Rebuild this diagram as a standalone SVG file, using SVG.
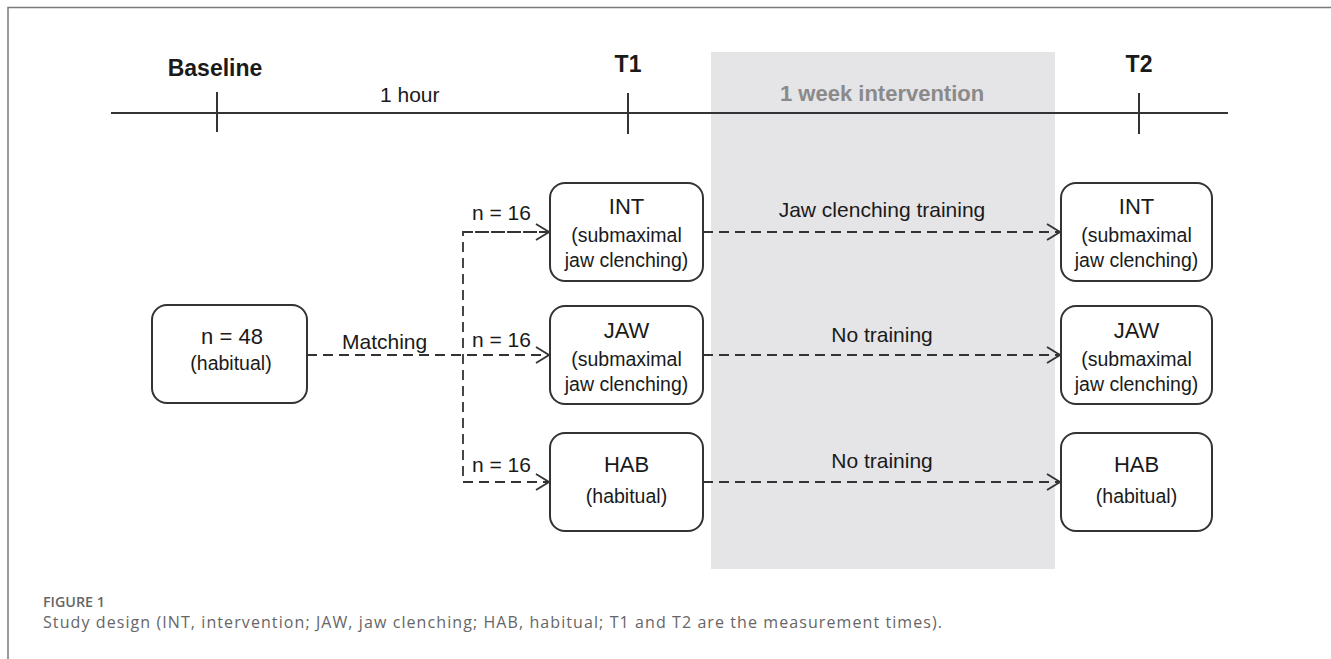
<svg xmlns="http://www.w3.org/2000/svg" width="1331" height="659" viewBox="0 0 1331 659">
  <style>
    text { font-family: "Liberation Sans", Arial, sans-serif; fill: #1a1a1a; }
    .head { font-size: 23px; font-weight: bold; text-anchor: middle; }
    .span { font-size: 22px; font-weight: bold; fill: #8a8a8a; }
    .lbl { font-size: 21px; }
    .title { font-size: 22px; text-anchor: middle; }
    .sub { font-size: 19.5px; text-anchor: middle; }
    .box { fill: #ffffff; stroke: #333333; stroke-width: 2; }
    .axis { stroke: #333333; stroke-width: 2; fill: none; }
    .dash { stroke: #333333; stroke-width: 1.8; fill: none; stroke-dasharray: 10 6; }
    .cap { font-family: "Open Sans", "Liberation Sans", sans-serif; fill: #666666; }
  </style>
  <defs>
    <marker id="arrow" viewBox="0 0 15 18" refX="14" refY="9" markerWidth="15" markerHeight="18" markerUnits="userSpaceOnUse" orient="auto">
      <path d="M1,1 L14,9 L1,17" fill="none" stroke="#333333" stroke-width="1.8"/>
    </marker>
  </defs>

  <rect width="1331" height="659" fill="#ffffff"/>
  <!-- figure frame -->
  <path d="M8,659 V7.5 H1331" fill="none" stroke="#7a7a7a" stroke-width="1.5"/>

  <!-- intervention period band -->
  <rect x="711" y="52" width="344" height="517" fill="#e5e4e6"/>

  <!-- timeline -->
  <g id="timeline">
    <line class="axis" x1="111" y1="113" x2="1228" y2="113"/>
    <line class="axis" x1="217" y1="92" x2="217" y2="132"/>
    <line class="axis" x1="628" y1="93" x2="628" y2="134"/>
    <line class="axis" x1="1139" y1="93" x2="1139" y2="134"/>
    <text class="head" x="215" y="76">Baseline</text>
    <text class="head" x="628" y="72">T1</text>
    <text class="head" x="1139" y="72">T2</text>
    <text class="lbl" x="380" y="102">1 hour</text>
    <text class="span" x="780" y="101">1 week intervention</text>
  </g>

  <!-- connectors -->
  <g id="connectors">
    <line class="dash" x1="307" y1="355" x2="549" y2="355" marker-end="url(#arrow)"/>
    <path class="dash" d="M549,232 H463 V482 H549" marker-end="url(#arrow)"/>
    <line class="dash" x1="463" y1="232" x2="549" y2="232" marker-end="url(#arrow)"/>
    <line class="dash" x1="703" y1="232" x2="1060" y2="232" marker-end="url(#arrow)"/>
    <line class="dash" x1="703" y1="355" x2="1060" y2="355" marker-end="url(#arrow)"/>
    <line class="dash" x1="703" y1="482" x2="1060" y2="482" marker-end="url(#arrow)"/>
    <text class="lbl" x="472" y="220">n = 16</text>
    <text class="lbl" x="472" y="347">n = 16</text>
    <text class="lbl" x="472" y="472">n = 16</text>
    <text class="lbl" x="342" y="349">Matching</text>
    <text class="lbl" x="882" y="217" text-anchor="middle">Jaw clenching training</text>
    <text class="lbl" x="882" y="342" text-anchor="middle">No training</text>
    <text class="lbl" x="882" y="468" text-anchor="middle">No training</text>
  </g>

  <g id="start">
    <rect class="box" x="152" y="305" width="155" height="98" rx="15"/>
    <text class="title" x="232" y="344">n = 48</text>
    <text class="sub" x="231" y="370">(habitual)</text>
  </g>

  <g id="int-t1">
    <rect class="box" x="550" y="183" width="153" height="98" rx="15"/>
    <text class="title" x="626.5" y="214">INT</text>
    <text class="sub" x="626.5" y="242">(submaximal</text>
    <text class="sub" x="626.5" y="267">jaw clenching)</text>
  </g>

  <g id="jaw-t1">
    <rect class="box" x="550" y="306" width="153" height="98" rx="15"/>
    <text class="title" x="626.5" y="338">JAW</text>
    <text class="sub" x="626.5" y="366">(submaximal</text>
    <text class="sub" x="626.5" y="391">jaw clenching)</text>
  </g>

  <g id="hab-t1">
    <rect class="box" x="550" y="433" width="153" height="98" rx="15"/>
    <text class="title" x="626.5" y="472">HAB</text>
    <text class="sub" x="626.5" y="503">(habitual)</text>
  </g>

  <g id="int-t2">
    <rect class="box" x="1061" y="183" width="151" height="98" rx="15"/>
    <text class="title" x="1136.5" y="214">INT</text>
    <text class="sub" x="1136.5" y="242">(submaximal</text>
    <text class="sub" x="1136.5" y="267">jaw clenching)</text>
  </g>

  <g id="jaw-t2">
    <rect class="box" x="1061" y="306" width="151" height="98" rx="15"/>
    <text class="title" x="1136.5" y="338">JAW</text>
    <text class="sub" x="1136.5" y="366">(submaximal</text>
    <text class="sub" x="1136.5" y="391">jaw clenching)</text>
  </g>

  <g id="hab-t2">
    <rect class="box" x="1061" y="433" width="151" height="98" rx="15"/>
    <text class="title" x="1136.5" y="472">HAB</text>
    <text class="sub" x="1136.5" y="503">(habitual)</text>
  </g>

  <!-- caption -->
  <text class="cap" x="43" y="607" font-size="13.5" font-weight="600" textLength="62" lengthAdjust="spacingAndGlyphs">FIGURE 1</text>
  <text class="cap" x="43" y="628" font-size="16" textLength="899" lengthAdjust="spacing">Study design (INT, intervention; JAW, jaw clenching; HAB, habitual; T1 and T2 are the measurement times).</text>
</svg>
